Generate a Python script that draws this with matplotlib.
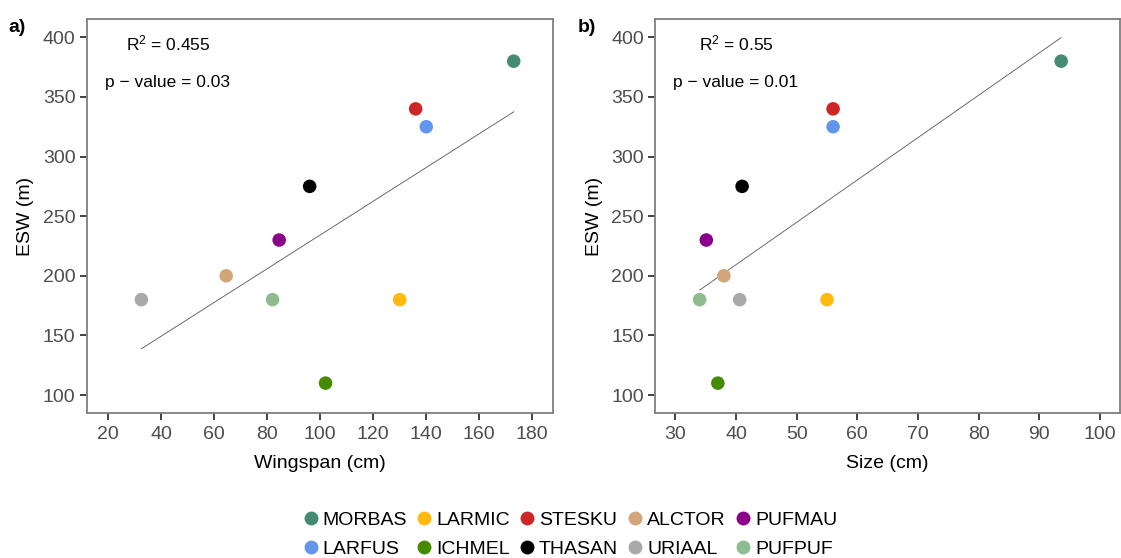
import numpy as np
import matplotlib
matplotlib.use('Agg')
import matplotlib.pyplot as plt
from matplotlib.lines import Line2D

plt.rcParams['font.family'] = ['Liberation Sans', 'DejaVu Sans']
plt.rcParams['mathtext.fontset'] = 'custom'
plt.rcParams['mathtext.rm'] = 'Liberation Sans'

# Species codes and their colours
species = ['MORBAS', 'LARMIC', 'STESKU', 'ALCTOR', 'PUFMAU',
           'LARFUS', 'ICHMEL', 'THASAN', 'URIAAL', 'PUFPUF']
colors = ['#458B74', '#FFB90F', '#CD2626', '#D2A679', '#8B008B',
          '#6495ED', '#458B00', '#000000', '#A9A9A9', '#8FBC8F']

# Effective strip width per species (m)
esw = [380, 180, 340, 200, 230, 325, 110, 275, 180, 180]
wingspan = [173, 130, 136, 64.5, 84.5, 140, 102, 96, 32.5, 82]
size = [93.6, 55, 56, 38, 35.1, 56, 37, 41, 40.6, 34]

panels = [
    dict(x=wingspan, xlabel='Wingspan (cm)', tag='a)', r2='0.455', p='0.03',
         xlim=(11.85, 187.7), xticks=np.arange(20, 181, 20), tx=42.5),
    dict(x=size, xlabel='Size (cm)', tag='b)', r2='0.55', p='0.01',
         xlim=(26.64, 103.3), xticks=np.arange(30, 101, 10), tx=40),
]

fig = plt.figure(figsize=(11.21, 5.58), dpi=100)
positions = [[0.0773, 0.2604, 0.4157, 0.705], [0.5843, 0.2604, 0.4148, 0.705]]

for pos, pn in zip(positions, panels):
    ax = fig.add_axes(pos)
    x = np.array(pn['x'])
    y = np.array(esw)
    # least-squares fit across the range of the data
    slope, icpt = np.polyfit(x, y, 1)
    xs = np.array([x.min(), x.max()])
    ax.plot(xs, icpt + slope * xs, color='#555555', lw=0.6, zorder=1)
    ax.scatter(x, y, c=colors, s=95, edgecolors='none', zorder=2)

    ax.set_xlim(*pn['xlim'])
    ax.set_ylim(85.2, 415.1)
    ax.set_xticks(pn['xticks'])
    ax.set_yticks(np.arange(100, 401, 50))
    for sp in ax.spines.values():
        sp.set_color('#7f7f7f')
        sp.set_linewidth(1.3)
    ax.tick_params(colors='#4d4d4d', labelsize=14, length=5, width=1.3, pad=3)
    ax.tick_params(axis='x', pad=4.5)
    ax.tick_params(axis='both', color='#333333')
    ax.set_xlabel(pn['xlabel'], fontsize=14, labelpad=8.5)
    ax.set_ylabel('ESW (m)', fontsize=14, labelpad=6)

    ax.text(pn['tx'], 395, r'$\mathregular{R^2}$ = ' + pn['r2'],
            fontsize=12.5, ha='center', va='center')
    ax.text(pn['tx'], 362.5, 'p \u2212 value = ' + pn['p'],
            fontsize=12.5, ha='center', va='center')
    ax.text(-0.167, 1.0, pn['tag'],
            transform=ax.transAxes, fontsize=14, fontweight='bold',
            ha='left', va='top')

# legend laid out column by column so rows read left to right
order = [0, 5, 1, 6, 2, 7, 3, 8, 4, 9]
handles = [Line2D([], [], marker='o', ls='none', markersize=10,
                  markerfacecolor=colors[i], markeredgecolor='none')
           for i in order]
labels = [species[i] for i in order]
fig.legend(handles, labels, ncol=5, loc='center',
           bbox_to_anchor=(569 / 1121, 1 - 534.5 / 558), frameon=False,
           fontsize=14, handletextpad=0.1, columnspacing=0.4,
           labelspacing=0.6, handlelength=1.0)

fig.savefig('out.png', dpi=100)
